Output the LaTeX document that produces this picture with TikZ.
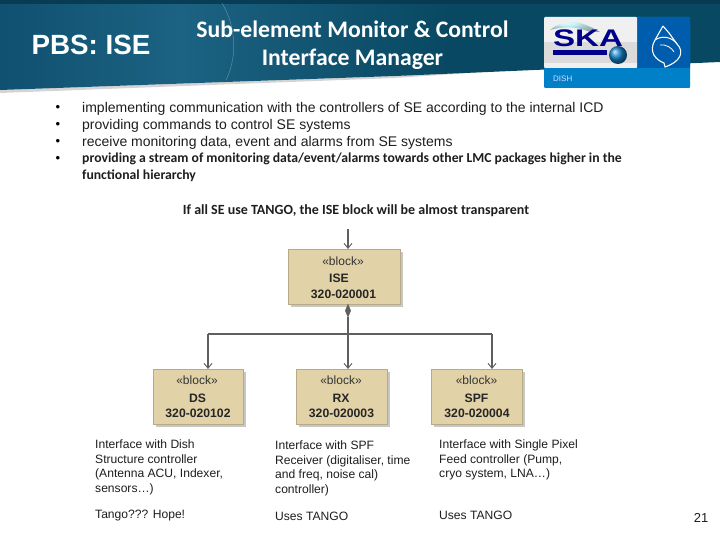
\documentclass[tikz,border=0pt]{standalone}
\usepackage{fontspec}
\setmainfont{Liberation Sans}
\newfontfamily\carl{Carlito}
\usetikzlibrary{arrows.meta,shapes.geometric,calc,shadows}
\definecolor{bannerA}{RGB}{8,58,80}
\definecolor{bannerB}{RGB}{28,98,130}
\definecolor{bannerC}{RGB}{8,72,98}
\definecolor{bannerD}{RGB}{16,80,112}
\definecolor{blockfill}{RGB}{226,210,168}
\definecolor{blockedge}{RGB}{185,170,135}
\definecolor{wire}{RGB}{95,95,95}
\definecolor{txt}{RGB}{30,30,30}
\tikzset{
  block/.style={draw=blockedge,fill=blockfill,line width=0.8pt,inner sep=0pt,anchor=north west,
    general shadow={fill=black!22,shadow xshift=3pt,shadow yshift=-3pt}},
  wireline/.style={draw=wire,line width=1.3pt},
  openarrow/.style={wireline,-{Straight Barb[length=5pt,width=8pt,line width=0.9pt]}},
  bullet/.style={font=\fontsize{13}{14}\selectfont,anchor=center,inner sep=0pt},
  bodyline/.style={font=\fontsize{14}{16}\selectfont\color{txt},anchor=west,inner sep=0pt},
  bodycal/.style={font=\carl\fontsize{13.7}{16}\selectfont\bfseries\color{txt},anchor=west,inner sep=0pt},
  note/.style={font=\fontsize{12.1}{14.6}\selectfont\color{txt},anchor=north west,inner sep=0pt,align=left},
  headline/.style={font=\carl\fontsize{23.7}{28}\selectfont\bfseries\color{white},align=center,inner sep=0pt},
  blockt/.style={font=\fontsize{12}{14}\selectfont\color{black!80},inner sep=0pt},
  blockb/.style={font=\fontsize{12.2}{14}\selectfont\bfseries\color{black!85},inner sep=0pt},
}
\begin{document}
\begin{tikzpicture}[x=1pt,y=-1pt]
\useasboundingbox (0,0) rectangle (720,540);
\fill[white] (0,0) rectangle (720,540);
% banner
\fill[black!30,opacity=.55] (0,90) -- (395,76) -- (544,66) -- (544,68) -- (395,78) -- (0,93) -- cycle;
\begin{scope}
\clip (0,0) -- (720,0) -- (720,62) -- (395,76) -- (0,90) -- cycle;
\shade[left color=bannerD,right color=bannerB] (0,0) rectangle (180,95);
\shade[left color=bannerB,right color=bannerC] (180,0) rectangle (450,95);
\fill[bannerC] (450,0) rectangle (720,95);
\fill[bannerA,opacity=.9] (0,0) rectangle (720,4);
\end{scope}
\draw[white,opacity=.3,line width=.5pt] (222,3) .. controls (238,30) and (236,60) .. (226,80);
% titles
\node[font=\fontsize{27.8}{30}\selectfont\bfseries\color{white},inner sep=0pt] (pbs) at (91,44.5) {PBS: ISE};
\node[headline] (title) at (352.5,45) {Sub-element Monitor \& Control\\Interface Manager};
% logo
\fill[rounded corners=1pt,fill={rgb,255:red,0;green,128;blue,198}] (544,17) rectangle (690,88);
\fill[fill={rgb,255:red,0;green,92;blue,172},rounded corners=1pt] (637,17) rectangle (690,68);
\fill[black!6,rounded corners=1pt] (544,17) rectangle (637,68);
\fill[black!14] (544,42) rectangle (637,63);
\shade[ball color=blue!10!cyan!50,opacity=.5] (550,30) .. controls (565,18) and (580,20) .. (600,32) -- (590,32) .. controls (575,26) and (565,26) .. (550,30) -- cycle;
\node[font=\fontsize{24}{24}\selectfont\bfseries\color{blue!55!black},inner sep=0pt,xscale=1.38] (ska) at (588,38.5) {SKA};
\fill[blue!55!black] (553,50) rectangle (607,55);
\shade[ball color={rgb,255:red,20;green,130;blue,200}] (618,55) circle (9);
\draw[white,line width=1.1pt] (663,26) -- (655,40) .. controls (648,52) and (656,60) .. (664,63) -- (665,67) .. controls (680,62) and (685,52) .. (677,44) -- (669,33) -- (663,26);
\draw[white,line width=1pt] (655,40) .. controls (662,35) and (672,37) .. (677,44);
\draw[white,line width=.8pt] (660,45) .. controls (666,44) and (672,48) .. (674,52);
\node[font=\fontsize{8}{9}\selectfont\color{white!85!blue},inner sep=0pt,anchor=west] (dish) at (553,79) {DISH};
% bullets
\foreach \n/\y in {a/108.5,b/125.5,c/142.5,d/159}{
  \node[bullet] (dot\n) at (58,\y) {•};
}
\node[bodyline] (l1) at (82,108.5) {implementing communication with the controllers of SE according to the internal ICD};
\node[bodyline] (l2) at (82,125.5) {providing commands to control SE systems};
\node[bodyline] (l3) at (82,142.5) {receive monitoring data, event and alarms from SE systems};
\node[bodycal] (l4) at (82,159) {providing a stream of monitoring data/event/alarms towards other LMC packages higher in the};
\node[bodycal] (l5) at (82,176) {functional hierarchy};
\node[font=\carl\fontsize{14}{16}\selectfont\bfseries\color{txt},inner sep=0pt] (l6) at (356,210.5) {If all SE use TANGO, the ISE block will be almost transparent};
% blocks
\node[block,minimum width=112pt,minimum height=55pt] (ise) at (288,249) {};
\node[block,minimum width=90pt,minimum height=55pt] (ds) at (153,369) {};
\node[block,minimum width=91pt,minimum height=55pt] (rx) at (296,369) {};
\node[block,minimum width=91pt,minimum height=55pt] (spf) at (431,369) {};
\node[blockt] (isea) at (343,261) {«block»};
\node[blockb] (iseb1) at (339,278) {ISE};
\node[blockb] (isec) at (343.5,294) {320-020001};
\node[blockt] (dsa) at (197,380.5) {«block»};
\node[blockb] (dsb) at (197.5,398) {DS};
\node[blockb] (dsc) at (198,413.5) {320-020102};
\node[blockt] (rxa) at (341,380.5) {«block»};
\node[blockb] (rxb) at (341,398) {RX};
\node[blockb] (rxc) at (341.5,413.5) {320-020003};
\node[blockt] (spfa) at (476.5,380.5) {«block»};
\node[blockb] (spfb) at (476.5,398) {SPF};
\node[blockb] (spfc) at (477,413.5) {320-020004};
% connectors
\coordinate (in) at (348,229);
\coordinate (iseb) at (348,304);
\coordinate (hub) at (348,334);
\coordinate (bl) at (208,334);
\coordinate (br) at (492,334);
\draw[openarrow] (in) -- (in |- ise.north);
\node[diamond,fill=wire,draw=wire,inner sep=0pt,minimum width=5.5pt,minimum height=13pt,anchor=north] (dia) at (iseb) {};
\draw[wireline] (dia.south) -- (hub);
\draw[wireline] (bl) -- (br);
\draw[openarrow] (bl) -- (bl |- ds.north);
\draw[openarrow] (hub) -- (hub |- rx.north);
\draw[openarrow] (br) -- (br |- spf.north);
% notes
\node[note] (n1) at (95,439.5) {Interface with Dish\\Structure controller\\(Antenna ACU, Indexer,\\sensors…)};
\node[note] (n2) at (275,440.5) {Interface with SPF\\Receiver (digitaliser, time\\and freq, noise cal)\\controller)};
\node[note] (n3) at (439,439.5) {Interface with Single Pixel\\Feed controller (Pump,\\cryo system, LNA…)};
\node[note,anchor=west] (n4) at (95,515.5) {Tango??? Hope!};
\node[note,anchor=west] (n5) at (275,516.5) {Uses TANGO};
\node[note,anchor=west] (n6) at (439,515.5) {Uses TANGO};
\node[font=\fontsize{13}{15}\selectfont\color{txt},inner sep=0pt] (num) at (701,518) {21};
\end{tikzpicture}
\end{document}
